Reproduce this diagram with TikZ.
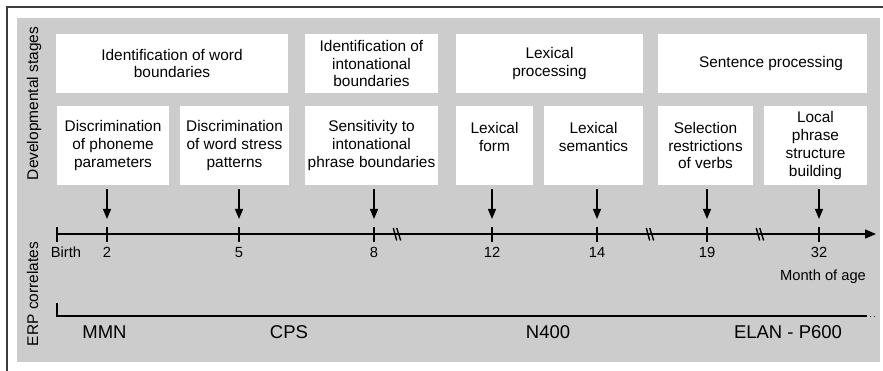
\documentclass[tikz,border=0pt]{standalone}
\usepackage{fontspec}
\setmainfont{Liberation Sans}
\usetikzlibrary{positioning,calc}
\usetikzlibrary{arrows.meta}
\definecolor{PanelGray}{RGB}{204,204,204}
\definecolor{FrameGray}{RGB}{60,60,60}
\tikzset{
  stage/.style={fill=white,inner sep=0pt,align=center,
    font=\fontsize{15.4}{17.7}\selectfont},
  timeline/.style={draw=black,line width=1.3pt},
  tickmark/.style={draw=black,line width=1.3pt},
  stagearrow/.style={draw=black,line width=1.3pt,-{Triangle[length=10pt,width=8pt]}},
  month/.style={anchor=base,font=\fontsize{14.7}{17}\selectfont},
  erp/.style={anchor=base,font=\fontsize{18.5}{22}\selectfont},
  side/.style={anchor=base,rotate=90,font=\fontsize{15.5}{18}\selectfont},
}

\begin{document}
\begin{tikzpicture}[x=1pt,y=-1pt]
\useasboundingbox (0,0) rectangle (883,371);
\fill[PanelGray] (17,18) rectangle (880,362);
\draw[FrameGray,line width=1.2pt] (7,371) -- (7,7) -- (883,7);

\node[side] (devlab) at (38,103.5) {Developmental stages};
\node[side] (erplab) at (38,294) {ERP correlates};

% stages
\node[stage,minimum width=232pt,minimum height=59pt] (wordid) at (172,63.5) {Identification of word\\boundaries};
\node[stage,minimum width=133pt,minimum height=59pt] (intonid) at (371.5,63.5) {Identification of\\intonational\\boundaries};
\node[stage,minimum width=187pt,minimum height=59pt] (lexproc) at (549.5,63.5) {Lexical\\processing};
\node[stage,minimum width=209pt,minimum height=59pt] (sentproc) at (762.5,63.5) {\hspace*{17pt}Sentence processing};

\node[stage,minimum width=112pt,minimum height=79pt] (phon) at (113,145.5) {Discrimination\\of phoneme\\parameters};
\node[stage,minimum width=109pt,minimum height=79pt] (stress) at (234.5,145.5) {Discrimination\\of word stress\\patterns};
\node[stage,minimum width=133pt,minimum height=79pt] (phrase) at (371.5,145.5) {Sensitivity to\\intonational\\phrase boundaries};
\node[stage,minimum width=77pt,minimum height=79pt] (form) at (494.5,145.5) {Lexical\\form\\\mbox{}};
\node[stage,minimum width=99pt,minimum height=79pt] (sem) at (593.5,145.5) {Lexical\\semantics\\\mbox{}};
\node[stage,minimum width=95pt,minimum height=79pt] (verbs) at (705.5,145.5) {Selection\\restrictions\\of verbs};
\node[stage,minimum width=103pt,minimum height=79pt] (local) at (815.5,145.5) {Local\\phrase\\structure\\building};

% time axis
\coordinate (t0) at (57,234);
\coordinate (t2) at (107,234);
\coordinate (t5) at (239,234);
\coordinate (t8) at (374,234);
\coordinate (t12) at (492,234);
\coordinate (t14) at (597,234);
\coordinate (t19) at (707,234);
\coordinate (t32) at (819,234);
\coordinate (tend) at (876,234);
\draw[timeline,-{Triangle[length=11pt,width=9pt]}] (t0) -- (tend);
\foreach \t in {t0,t2,t5,t8,t12,t14,t19,t32}
  \draw[tickmark] ($(\t)+(0,-7)$) -- ($(\t)+(0,8)$);

\coordinate (br1) at (397,234);
\coordinate (br2) at (650,234);
\coordinate (br3) at (760,234);
\foreach \b in {br1,br2,br3} {
  \draw[line width=1.4pt] ($(\b)+(-3.7,-6)$) -- ($(\b)+(-0.3,6.5)$);
  \draw[line width=1.4pt] ($(\b)+(-0.3,-6)$) -- ($(\b)+(3.7,6.5)$);
}

\foreach \b/\t in {phon/t2,stress/t5,phrase/t8,form/t12,sem/t14,verbs/t19,local/t32}
  \draw[stagearrow] ($(\t |- \b.south)+(0,4)$) -- ($(\t)+(0,-15)$);

\node[month] (lbirth) at (66,258) {Birth};
\foreach \t/\lab in {t2/2,t5/5,t8/8,t12/12,t14/14,t19/19,t32/32}
  \node[month] (l\t) at ($(\t)+(0,24)$) {\lab};
\node[month] (lmonth) at (823,280) {Month of age};

% ERP correlates
\coordinate (erp0) at (57,303);
\coordinate (erpc) at (57,316);
\coordinate (erp1) at (867,316);
\coordinate (erp2) at (876,316);
\draw[timeline] (erp0) -- (erpc) -- (erp1);
\draw[line width=1pt,dash pattern=on 1pt off 2.5pt] ($(erp1)+(3,0)$) -- (erp2);

\node[erp] (mmn) at (104.5,338) {MMN};
\node[erp] (cps) at (289,338) {CPS};
\node[erp] (n400) at (548,338) {N400};
\node[erp] (elan) at (788,338) {ELAN - P600};
\end{tikzpicture}
\end{document}
